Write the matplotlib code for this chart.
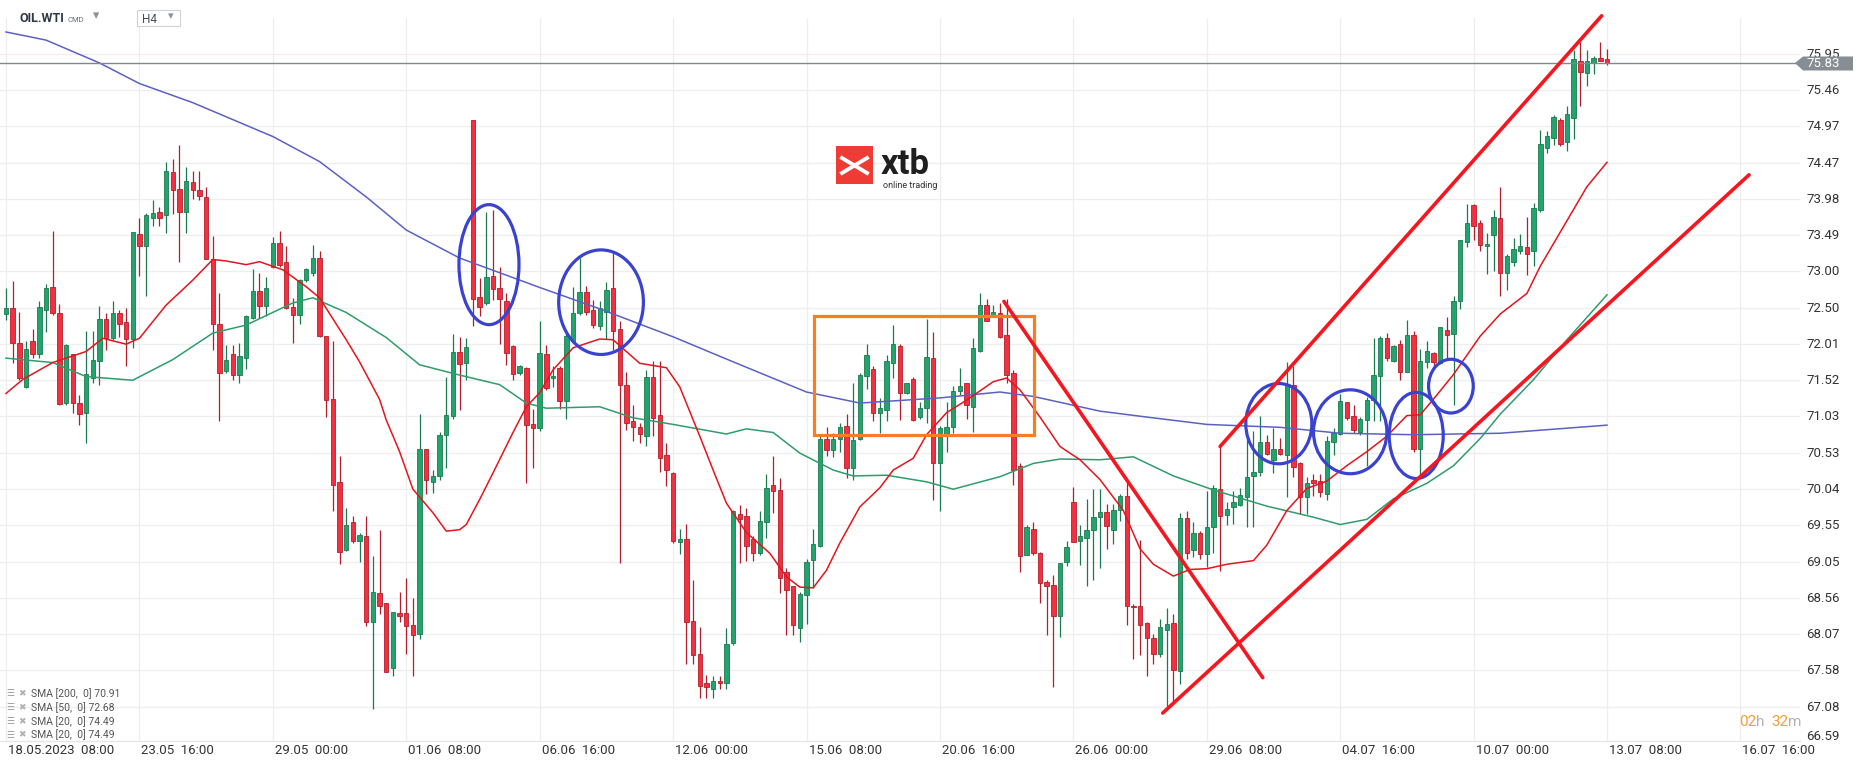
import matplotlib.pyplot as plt
import matplotlib.transforms as mtransforms
from matplotlib.patches import Ellipse, Rectangle, Polygon
from matplotlib.lines import Line2D

plt.rcParams['font.family'] = ['Roboto', 'DejaVu Sans']

# H4 candles, 18.05.2023 08:00 -> 13.07.2023 08:00 (index 0..240)
opens = [72.42, 72.50, 72.03, 71.43, 72.05, 71.87, 72.47, 72.79, 72.44, 71.21,
         71.87, 71.21, 71.08, 71.55, 71.78, 72.35, 72.09, 72.43, 72.31, 72.08,
         73.50, 73.34, 73.73, 73.80, 73.76, 74.35, 74.12, 73.80, 74.21, 74.11,
         74.01, 73.16, 72.28, 71.64, 71.87, 71.59, 71.82, 72.37, 72.73, 72.53,
         73.06, 73.38, 73.13, 72.52, 72.41, 72.88, 72.97, 73.18, 72.12, 71.26,
         70.14, 69.21, 69.60, 69.33, 69.41, 68.24, 68.63, 68.49, 67.61, 68.36,
         68.36, 68.20, 68.08, 70.58, 70.14, 70.22, 70.78, 71.03, 71.91, 71.75,
         75.06, 72.65, 72.57, 72.94, 72.77, 72.59, 71.99, 71.62, 71.68, 70.93,
         70.87, 71.87, 71.55, 71.68, 71.24, 72.05, 72.43, 72.72, 72.48, 72.25,
         72.45, 72.77, 72.21, 71.46, 70.96, 70.88, 70.76, 71.56, 71.05, 70.50,
         70.26, 69.32, 69.36, 68.25, 67.80, 67.41, 67.32, 67.44, 67.41, 67.95,
         69.70, 69.68, 69.36, 69.18, 69.59, 70.10, 70.03, 68.91, 68.72, 68.16,
         68.60, 69.08, 69.27, 70.72, 70.57, 70.72, 70.90, 70.33, 70.72, 71.58,
         71.67, 71.07, 71.12, 71.76, 71.98, 71.35, 71.53, 71.02, 71.14, 71.82,
         70.40, 70.79, 70.88, 71.37, 71.48, 71.16, 71.92, 72.54, 72.40, 72.43,
         72.14, 71.62, 70.35, 69.15, 69.50, 69.17, 68.78, 68.74, 68.32, 69.05,
         69.86, 69.33, 69.38, 69.48, 69.66, 69.73, 69.49, 69.76, 69.95, 68.46,
         68.45, 68.22, 68.02, 67.80, 68.13, 68.22, 67.57, 69.65, 69.21, 69.44,
         69.16, 69.52, 70.04, 69.69, 69.80, 69.83, 69.94, 70.22, 70.27, 70.68,
         70.44, 70.58, 70.51, 71.45, 70.40, 69.93, 70.16, 70.15, 69.98, 70.68,
         70.79, 71.22, 71.03, 70.82, 70.98, 71.25, 71.58, 72.09, 71.78, 72.01,
         71.63, 72.14, 70.59, 71.77, 71.89, 71.76, 72.20, 72.15, 72.59, 73.40,
         73.90, 73.65, 73.34, 73.49, 73.73, 72.97, 73.13, 73.27, 73.33, 73.27,
         73.83, 74.68, 74.81, 75.06, 74.76, 75.08, 75.86, 75.69, 75.83, 75.89,
         75.88]
highs = [72.77, 72.87, 72.45, 72.05, 72.21, 72.59, 72.83, 73.55, 72.55, 72.01,
         71.87, 71.32, 72.19, 72.19, 72.53, 72.43, 72.60, 72.48, 72.50, 73.54,
         73.73, 73.79, 73.97, 73.87, 74.48, 74.53, 74.71, 74.41, 74.36, 74.36,
         74.14, 73.48, 72.71, 72.00, 72.00, 72.02, 72.40, 73.03, 72.98, 72.92,
         73.47, 73.55, 73.35, 72.64, 72.89, 73.04, 73.36, 73.28, 72.12, 72.05,
         70.49, 69.78, 69.68, 69.45, 69.68, 69.13, 69.49, 68.49, 68.37, 68.65,
         68.83, 68.56, 71.06, 70.58, 70.30, 70.82, 71.56, 72.15, 72.11, 72.10,
         75.06, 72.91, 73.80, 73.83, 73.06, 72.70, 72.00, 71.73, 71.70, 71.13,
         72.33, 72.00, 71.71, 71.71, 72.20, 72.79, 73.18, 72.80, 72.61, 72.60,
         72.86, 73.25, 72.32, 71.63, 71.19, 70.94, 71.66, 71.78, 71.78, 70.67,
         70.27, 69.50, 69.57, 68.81, 68.17, 67.52, 67.50, 67.50, 68.15, 69.76,
         69.83, 69.79, 69.41, 69.75, 70.24, 70.49, 70.19, 68.97, 68.72, 68.64,
         69.09, 69.50, 70.78, 70.89, 70.80, 70.94, 71.06, 71.48, 71.62, 72.01,
         71.71, 71.28, 71.86, 72.27, 72.01, 71.48, 71.56, 71.23, 72.35, 72.18,
         70.90, 71.23, 71.44, 71.68, 71.48, 72.09, 72.70, 72.63, 72.54, 72.57,
         72.63, 71.66, 70.39, 69.56, 69.60, 69.19, 68.80, 68.88, 69.04, 69.33,
         70.07, 69.56, 69.91, 70.04, 70.04, 69.84, 69.84, 69.97, 70.17, 68.48,
         69.35, 68.23, 68.08, 68.28, 68.43, 68.34, 69.71, 69.74, 69.59, 69.47,
         70.01, 70.10, 70.62, 69.87, 70.01, 70.05, 70.73, 70.83, 71.04, 70.77,
         70.87, 70.73, 71.77, 71.72, 70.41, 70.21, 70.24, 70.24, 70.76, 70.87,
         71.33, 71.23, 71.18, 71.02, 71.29, 72.09, 72.12, 72.16, 72.00, 72.07,
         72.34, 72.19, 71.94, 72.05, 71.91, 72.24, 72.38, 72.66, 73.43, 73.92,
         73.92, 73.69, 73.52, 73.83, 74.14, 73.24, 73.45, 73.51, 73.74, 73.93,
         74.92, 74.91, 75.12, 75.08, 75.24, 76.01, 76.12, 76.01, 75.92, 76.12,
         76.02]
lows = [72.34, 71.75, 71.53, 71.41, 71.82, 71.82, 72.17, 72.41, 71.18, 71.19,
        71.07, 70.91, 70.67, 71.48, 71.46, 71.93, 72.07, 72.11, 71.71, 71.96,
        72.93, 72.67, 73.61, 73.61, 73.52, 73.78, 73.12, 73.52, 73.98, 73.97,
        73.16, 71.93, 70.96, 71.62, 71.53, 71.48, 71.67, 72.35, 72.36, 72.39,
        73.04, 73.06, 72.49, 72.02, 72.29, 72.86, 72.93, 72.11, 71.02, 69.74,
        69.03, 69.20, 69.31, 69.05, 68.18, 67.05, 68.34, 67.56, 67.50, 68.23,
        67.80, 67.50, 68.00, 69.98, 69.99, 70.17, 70.33, 71.00, 71.12, 71.52,
        72.26, 72.39, 72.54, 72.61, 72.01, 71.73, 71.53, 71.59, 70.12, 70.33,
        70.83, 71.39, 71.43, 71.13, 71.00, 72.02, 72.41, 72.41, 72.23, 72.20,
        72.08, 71.93, 69.04, 70.85, 70.70, 70.67, 70.62, 70.76, 70.28, 70.09,
        69.31, 69.16, 67.66, 67.66, 67.20, 67.20, 67.20, 67.32, 67.32, 67.93,
        69.04, 69.06, 69.06, 69.15, 69.38, 69.71, 68.63, 68.06, 68.06, 67.97,
        68.21, 68.70, 69.26, 70.49, 70.48, 70.55, 70.19, 70.17, 70.71, 71.40,
        70.96, 70.81, 70.96, 71.55, 70.98, 71.33, 70.97, 70.99, 70.94, 69.90,
        69.75, 70.55, 70.80, 71.32, 70.99, 70.82, 71.91, 72.33, 72.39, 72.09,
        71.48, 70.10, 68.92, 69.15, 69.15, 68.49, 68.06, 67.36, 68.03, 69.00,
        69.32, 69.01, 68.72, 68.81, 68.97, 69.23, 69.30, 69.61, 68.20, 67.73,
        67.79, 67.50, 67.67, 67.76, 67.06, 67.15, 67.40, 69.09, 69.12, 69.09,
        68.98, 69.18, 68.93, 69.56, 69.57, 69.81, 69.52, 69.53, 70.22, 70.50,
        70.26, 70.50, 69.94, 70.20, 69.70, 69.70, 69.95, 69.94, 69.89, 70.51,
        70.77, 70.98, 70.80, 70.78, 70.36, 70.97, 70.96, 71.78, 71.77, 71.53,
        71.63, 70.55, 70.23, 71.68, 71.67, 71.74, 71.79, 71.18, 72.49, 73.33,
        73.43, 73.27, 72.96, 73.01, 72.67, 72.75, 73.07, 73.24, 72.95, 73.07,
        73.81, 74.61, 74.71, 74.70, 74.64, 74.79, 75.25, 75.51, 75.68, 75.85,
        75.80]
closes = [72.50, 72.03, 71.55, 71.94, 71.87, 72.52, 72.77, 72.43, 71.20, 72.00,
          71.21, 71.06, 71.60, 71.80, 72.35, 72.09, 72.43, 72.29, 72.08, 73.53,
          73.34, 73.77, 73.79, 73.73, 74.36, 74.10, 73.81, 74.23, 74.10, 74.02,
          73.16, 72.28, 71.62, 71.80, 71.59, 71.85, 72.39, 72.73, 72.53, 72.77,
          73.39, 73.08, 72.50, 72.41, 72.88, 73.03, 73.18, 72.12, 71.25, 70.10,
          69.19, 69.55, 69.34, 69.42, 68.24, 68.64, 68.45, 67.56, 68.37, 68.32,
          68.18, 68.06, 70.58, 70.16, 70.22, 70.78, 71.05, 71.90, 71.74, 71.97,
          72.63, 72.52, 72.92, 72.76, 72.63, 71.89, 71.60, 71.71, 70.91, 70.87,
          71.89, 71.41, 71.58, 71.24, 72.12, 72.43, 72.72, 72.45, 72.27, 72.50,
          72.75, 72.19, 71.46, 70.94, 70.88, 70.79, 71.56, 71.01, 70.46, 70.30,
          69.33, 69.37, 68.23, 67.79, 67.37, 67.35, 67.43, 67.41, 67.94, 69.74,
          69.63, 69.27, 69.18, 69.61, 70.06, 70.02, 68.84, 68.67, 68.19, 68.61,
          69.05, 69.30, 70.72, 70.57, 70.72, 70.88, 70.33, 70.71, 71.59, 71.86,
          71.07, 71.14, 71.78, 72.01, 71.34, 71.48, 70.98, 71.14, 71.84, 70.39,
          70.87, 70.88, 71.38, 71.44, 71.19, 71.96, 72.54, 72.33, 72.45, 72.11,
          71.59, 70.30, 69.13, 69.53, 69.17, 68.77, 68.73, 68.32, 69.04, 69.25,
          69.32, 69.41, 69.48, 69.66, 69.73, 69.54, 69.76, 69.95, 68.45, 68.44,
          68.19, 68.02, 67.80, 68.17, 68.21, 67.58, 69.65, 69.17, 69.45, 69.16,
          69.52, 70.05, 69.68, 69.77, 69.87, 69.96, 70.21, 70.28, 70.68, 70.52,
          70.58, 70.52, 71.45, 70.34, 69.94, 70.13, 70.12, 70.00, 70.70, 70.80,
          71.24, 71.01, 70.85, 70.99, 71.25, 71.59, 72.10, 71.82, 71.98, 71.63,
          72.14, 70.59, 71.78, 71.92, 71.77, 72.24, 72.14, 72.59, 73.43, 73.65,
          73.62, 73.36, 73.37, 73.74, 72.98, 73.21, 73.30, 73.35, 73.24, 73.86,
          74.73, 74.84, 75.09, 74.73, 75.13, 75.88, 75.71, 75.85, 75.89, 75.86,
          75.83]

# moving averages (candle index, value)
sma200_idx = [0, 6, 14, 20, 28, 40, 47, 54, 60, 68, 80, 89, 100, 109, 120, 128, 140,
              149, 154, 164, 171, 180, 191, 200, 211, 224, 240]
sma200_val = [76.25, 76.14, 75.83, 75.55, 75.29, 74.83, 74.49, 74.01, 73.56, 73.18,
              72.78, 72.49, 72.11, 71.77, 71.36, 71.21, 71.28, 71.36, 71.30, 71.10,
              71.02, 70.92, 70.88, 70.80, 70.78, 70.80, 70.91]
sma50_idx = [0, 7, 12, 19, 25, 31, 36, 43, 46, 51, 57, 62, 68, 74, 78, 81, 89, 94,
             100, 108, 111, 115, 119, 124, 127, 132, 138, 142, 149, 154, 158, 164,
             169, 175, 181, 189, 196, 200, 204, 208, 213, 217, 221, 224, 229, 234, 240]
sma50_val = [71.82, 71.76, 71.57, 71.52, 71.80, 72.16, 72.27, 72.57, 72.64, 72.44,
             72.10, 71.73, 71.59, 71.46, 71.21, 71.14, 71.16, 71.01, 70.92, 70.79,
             70.86, 70.81, 70.53, 70.30, 70.22, 70.23, 70.14, 70.04, 70.21, 70.39,
             70.45, 70.44, 70.48, 70.22, 70.03, 69.81, 69.66, 69.56, 69.63, 69.91,
             70.12, 70.36, 70.73, 71.06, 71.53, 72.07, 72.68]
sma20_idx = [0, 2.5, 7, 12, 14.5, 18, 20, 24, 28, 31, 33, 36, 38, 41.5, 45, 47, 51,
             53, 56, 57, 59, 61, 64, 66, 68, 69, 71, 73, 76, 78, 80, 82, 85, 89, 91,
             95, 99, 101, 104, 106, 108, 111, 114.5, 117, 119, 121, 123, 125, 128,
             131, 133, 136, 138, 141, 144, 148, 150, 152, 155, 158, 161, 164, 167.5,
             170, 172, 175, 177.5, 180, 183, 187, 189, 192, 195, 198, 201, 204, 207,
             210, 212, 214.5, 217, 219, 221, 224, 228, 230, 233.5, 237, 240]
sma20_val = [71.34, 71.53, 71.76, 71.91, 72.09, 72.01, 72.09, 72.54, 72.88, 73.16,
             73.14, 73.09, 73.13, 73.02, 72.79, 72.64, 72.07, 71.77, 71.26, 70.98,
             70.55, 70.04, 69.72, 69.47, 69.49, 69.56, 69.90, 70.26, 70.81, 71.16,
             71.35, 71.66, 71.96, 72.08, 72.07, 71.75, 71.69, 71.43, 70.76, 70.30,
             69.85, 69.45, 69.17, 68.85, 68.71, 68.70, 68.94, 69.31, 69.80, 70.06,
             70.30, 70.46, 70.78, 71.08, 71.25, 71.50, 71.55, 71.39, 71.02, 70.62,
             70.44, 70.17, 69.75, 69.23, 69.02, 68.86, 68.95, 68.96, 69.02, 69.07,
             69.28, 69.75, 70.05, 70.15, 70.36, 70.55, 70.76, 71.04, 71.05, 71.32,
             71.60, 71.86, 72.12, 72.42, 72.70, 73.07, 73.61, 74.15, 74.48]

price_ticks = [75.95, 75.46, 74.97, 74.47, 73.98, 73.49, 73.00, 72.50, 72.01, 71.52,
               71.03, 70.53, 70.04, 69.55, 69.05, 68.56, 68.07, 67.58, 67.08, 66.59]
date_ticks = [0, 20, 40, 60, 80, 100, 120, 140, 160, 180, 200, 220, 240, 260]
date_labels = ['18.05.2023  08:00', '23.05  16:00', '29.05  00:00', '01.06  08:00',
               '06.06  16:00', '12.06  00:00', '15.06  08:00', '20.06  16:00',
               '26.06  00:00', '29.06  08:00', '04.07  16:00', '10.07  00:00',
               '13.07  08:00', '16.07  16:00']
last_price = 75.83
legend_rows = ['SMA [200,  0] 70.91', 'SMA [50,  0] 72.68',
               'SMA [20,  0] 74.49', 'SMA [20,  0] 74.49']

W, H = 1866, 767
fig = plt.figure(figsize=(W / 100, H / 100), dpi=100)
fig.patch.set_facecolor('white')
ax = fig.add_axes([0, 26 / H, 1800 / W, 723 / H])
ax.set_xlim(-0.9, 268.93)
ax.set_ylim(66.62, 76.44)
ax.axis('off')


def fx(x):
    return x / W


def fy(y):
    return 1 - y / H


def ypx(p):
    return 54.2 + (75.95 - p) / 0.01358


# grid
for p in price_ticks[:-1]:
    ax.axhline(p, color='#eeeeee', lw=0.9, zorder=0)
for t in date_ticks:
    ax.axvline(t, color='#eeeeee', lw=0.9, zorder=0)
fig.add_artist(Line2D([0, fx(1800)], [fy(741), fy(741)], color='#e6e6e6', lw=1))

# candles
up_fill, up_edge = '#24a46d', '#1a7a4f'
dn_fill, dn_edge = '#f2303f', '#b31e2b'
idx = list(range(len(closes)))
wick_cols = [up_edge if c >= o else dn_edge for o, c in zip(opens, closes)]
ax.vlines(idx, lows, highs, colors=wick_cols, lw=0.9, zorder=2)
bottoms = [min(o, c) for o, c in zip(opens, closes)]
heights = [max(abs(c - o), 0.015) for o, c in zip(opens, closes)]
fills = [up_fill if c >= o else dn_fill for o, c in zip(opens, closes)]
ax.bar(idx, heights, bottom=bottoms, width=0.66, color=fills,
       edgecolor=wick_cols, linewidth=0.6, zorder=3)

# moving averages
ax.plot(sma200_idx, sma200_val, color='#5b61c4', lw=1.1, zorder=4)
ax.plot(sma50_idx, sma50_val, color='#2f9c6c', lw=1.1, zorder=4)
ax.plot(sma20_idx, sma20_val, color='#e3151d', lw=1.1, zorder=4)

# current price line
ax.axhline(last_price, color='#7f888d', lw=1.0, zorder=4)

# drawings
blue = '#3a42d0'
for cx, cy, w, h in [(72.4, 73.09, 9.0, 1.63), (89.2, 72.58, 12.7, 1.42),
                     (190.8, 70.93, 9.9, 1.09), (201.5, 70.82, 11.0, 1.14),
                     (211.4, 70.77, 8.1, 1.17), (216.6, 71.44, 6.7, 0.73)]:
    ax.add_patch(Ellipse((cx, cy), w, h, fill=False, edgecolor=blue, lw=2.3, zorder=5))
ax.add_patch(Rectangle((121.1, 70.77), 33.0, 1.62, fill=False, edgecolor='#fb7d22',
                       lw=2.3, zorder=5))
red = '#f5161f'
ax.plot([149.6, 188.4], [72.59, 67.48], color=red, lw=2.6, zorder=6, solid_capstyle='round')
ax.plot([182.0, 239.2], [70.62, 76.47], color=red, lw=2.6, zorder=6,
        solid_capstyle='round', clip_on=False)
ax.plot([173.4, 261.3], [67.00, 74.31], color=red, lw=2.6, zorder=6, solid_capstyle='round')

# y labels
for p in price_ticks:
    y = 737 if p == price_ticks[-1] else ypx(p)
    fig.text(fx(1806), fy(y), f'{p:.2f}', fontsize=9.5, color='#333333',
             va='center', ha='left', zorder=1)
fig.add_artist(Polygon([(fx(1795), fy(63)), (fx(1803), fy(56.5)), (fx(1853), fy(56.5)),
                        (fx(1853), fy(70.5)), (fx(1803), fy(70.5))], closed=True,
                       facecolor='#868e93', edgecolor='none', zorder=3))
fig.text(fx(1806), fy(63.5), f'{last_price:.2f}', fontsize=9.5, color='white',
         va='center', ha='left', zorder=4)

# x labels
trans = mtransforms.blended_transform_factory(ax.transData, fig.transFigure)
for t, lab in zip(date_ticks, date_labels):
    fig.text(t + 0.3, fy(751), lab, transform=trans, fontsize=9.5, color='#333333',
             va='center', ha='left')

# header
fig.text(fx(20), fy(19), 'OIL.WTI', fontsize=9, weight='bold', color='#2c3a47', va='center')
fig.text(fx(68), fy(19.5), 'CMD', fontsize=5.5, color='#666e75', va='center')
fig.text(fx(93), fy(16), '▾', fontsize=9, color='#8a9196', va='center')
fig.add_artist(Rectangle((fx(137), fy(26)), fx(43), 16 / H, facecolor='white',
                         edgecolor='#cfd3d6', lw=0.8))
fig.text(fx(142), fy(19.5), 'H4', fontsize=8.5, color='#444c52', va='center')
fig.text(fx(168), fy(16), '▾', fontsize=8, color='#8a9196', va='center')

# logo
fig.add_artist(Rectangle((fx(836), fy(184)), fx(37), 38 / H, facecolor='#ef3b33',
                         edgecolor='none'))
fig.add_artist(Line2D([fx(842), fx(867)], [fy(158), fy(173)], color='white', lw=2.8))
fig.add_artist(Line2D([fx(842), fx(867)], [fy(173), fy(158)], color='white', lw=2.8))
fig.text(fx(881), fy(181), 'xtb', fontsize=25, weight='bold', color='#1f1f1f', va='bottom')
fig.text(fx(883), fy(181.5), 'online trading', fontsize=6.5, color='#333333', va='top')

# legend
for k, row in enumerate(legend_rows):
    y = 694 + 13.7 * k
    fig.text(fx(6), fy(y), '☰', fontsize=6.5, color='#9a9a9a', va='center',
             family=['DejaVu Sans'])
    fig.text(fx(18), fy(y), '✖', fontsize=6.5, color='#b0b0b0', va='center',
             family=['DejaVu Sans'])
    fig.text(fx(31), fy(y), row, fontsize=7.5, color='#555555', va='center')

# countdown
fig.text(fx(1739), fy(722), '02', fontsize=11, color='#f5a02a', va='center')
fig.text(fx(1756), fy(722), 'h', fontsize=11, color='#b4b4b4', va='center')
fig.text(fx(1771), fy(722), '32', fontsize=11, color='#f5a02a', va='center')
fig.text(fx(1788), fy(722), 'm', fontsize=11, color='#b4b4b4', va='center')

fig.savefig('out.png', dpi=100)
